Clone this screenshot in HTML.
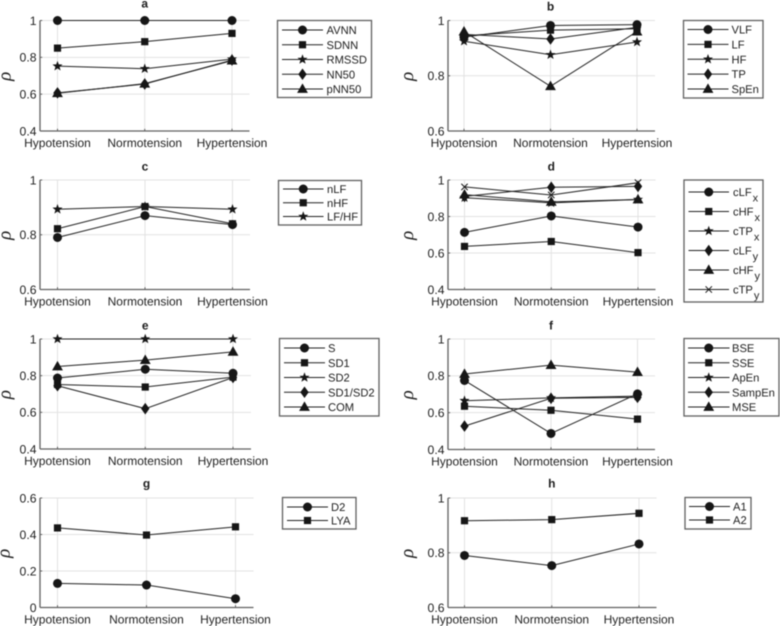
<!DOCTYPE html>
<html>
<head>
<meta charset="utf-8">
<title>Correlation by blood pressure group</title>
<style>
html,body{margin:0;padding:0;background:#fff;}
#figure{display:block;width:780px;height:626px;filter:blur(0.4px);}
text{font-family:"Liberation Sans",sans-serif;fill:#1f1f1f;text-rendering:geometricPrecision;}
</style>
</head>
<body>
<svg id="figure" xmlns="http://www.w3.org/2000/svg" width="780" height="626" viewBox="0 0 780 626"></svg>
<script>
// ---- Data ----
const categories = ["Hypotension", "Normotension", "Hypertension"];

const ticksFrom04 = [0.4, 0.6, 0.8, 1];
const ticksFrom06 = [0.6, 0.8, 1];
const ticksFrom0 = [0, 0.2, 0.4, 0.6];

const aAVNN = [1, 1, 1];
const aSDNN = [0.85, 0.885, 0.93];
const aRMSSD = [0.752, 0.738, 0.79];
const aNN50 = [0.607, 0.655, 0.785];
const apNN50 = [0.605, 0.657, 0.782];

const bVLF = [0.94, 0.982, 0.985];
const bLF = [0.945, 0.965, 0.97];
const bHF = [0.925, 0.876, 0.922];
const bTP = [0.95, 0.933, 0.975];
const bSpEn = [0.96, 0.762, 0.96];

const cnLF = [0.79, 0.87, 0.837];
const cnHF = [0.822, 0.903, 0.84];
const cLFHF = [0.893, 0.903, 0.893];

const dcLFx = [0.713, 0.803, 0.742];
const dcHFx = [0.636, 0.663, 0.602];
const dcTPx = [0.903, 0.875, 0.893];
const dcLFy = [0.91, 0.96, 0.965];
const dcHFy = [0.92, 0.88, 0.893];
const dcTPy = [0.962, 0.918, 0.985];

const eS = [0.787, 0.835, 0.813];
const eSD1 = [0.752, 0.738, 0.792];
const eSD2 = [1, 1, 1];
const eSD1SD2 = [0.745, 0.62, 0.79];
const eCOM = [0.85, 0.885, 0.93];

const fBSE = [0.775, 0.487, 0.702];
const fSSE = [0.635, 0.613, 0.565];
const fApEn = [0.665, 0.68, 0.69];
const fSampEn = [0.527, 0.678, 0.683];
const fMSE = [0.81, 0.858, 0.82];

const gD2 = [0.132, 0.123, 0.048];
const gLYA = [0.436, 0.397, 0.442];

const hA1 = [0.79, 0.753, 0.832];
const hA2 = [0.917, 0.921, 0.944];

// ---- Drawing ----
const svg = document.getElementById('figure');
const NS = 'http://www.w3.org/2000/svg';
const INK = '#161616';

function make(parent, tag, attrs, text) {
  const node = document.createElementNS(NS, tag);
  for (const k in attrs) node.setAttribute(k, attrs[k]);
  if (text !== undefined) node.textContent = text;
  parent.appendChild(node);
  return node;
}

function slug(s) {
  return s.toLowerCase().replace(/[^a-z0-9]+/g, '-');
}

function drawMarker(parent, shape, x, y) {
  let m;
  if (shape === 'circle') {
    m = make(parent, 'circle', {cx: x, cy: y, r: 4.5, fill: INK});
  } else if (shape === 'square') {
    m = make(parent, 'rect', {x: x - 3.6, y: y - 3.6, width: 7.2, height: 7.2, fill: INK});
  } else if (shape === 'star') {
    const pts = [];
    for (let i = 0; i < 10; i++) {
      const r = i % 2 === 0 ? 5.3 : 2.2;
      const a = -Math.PI / 2 + i * Math.PI / 5;
      pts.push((x + r * Math.cos(a)).toFixed(2) + ',' + (y + r * Math.sin(a)).toFixed(2));
    }
    m = make(parent, 'polygon', {points: pts.join(' '), fill: INK});
  } else if (shape === 'diamond') {
    m = make(parent, 'polygon', {points: `${x},${y - 5.8} ${x + 4.2},${y} ${x},${y + 5.8} ${x - 4.2},${y}`, fill: INK});
  } else if (shape === 'triangle') {
    m = make(parent, 'polygon', {points: `${x},${y - 5.6} ${x + 5.4},${y + 3.9} ${x - 5.4},${y + 3.9}`, fill: INK});
  } else {
    m = make(parent, 'path', {d: `M${x - 3.2} ${y - 3.2}L${x + 3.2} ${y + 3.2}M${x - 3.2} ${y + 3.2}L${x + 3.2} ${y - 3.2}`, stroke: INK, 'stroke-width': 1, fill: 'none'});
  }
  return m;
}

function drawPanel(p) {
  const yMin = p.ticks[0];
  const yMax = p.ticks[p.ticks.length - 1];
  const sy = v => p.bottom - (v - yMin) / (yMax - yMin) * (p.bottom - p.top);
  const sx = i => p.firstX + i * (p.lastX - p.firstX) / (categories.length - 1);

  const g = make(svg, 'g', {});
  
  

  // grid
  p.ticks.forEach(t => {
    if (t === yMin) return;
    const line = make(g, 'line', {x1: p.left, x2: p.right, y1: sy(t), y2: sy(t), stroke: '#e2e2e2', 'stroke-width': 1});
    
    
  });
  categories.forEach((c, i) => {
    const line = make(g, 'line', {x1: sx(i), x2: sx(i), y1: p.top, y2: p.bottom, stroke: '#e2e2e2', 'stroke-width': 1});
    
    
  });

  // axes
  const yAxis = make(g, 'line', {x1: p.left, x2: p.left, y1: p.top, y2: p.bottom, stroke: '#606060', 'stroke-width': 1.3});
  
  
  const xAxis = make(g, 'line', {x1: p.left, x2: p.right, y1: p.bottom, y2: p.bottom, stroke: '#606060', 'stroke-width': 1.3});
  
  

  // y ticks
  p.ticks.forEach(t => {
    const tick = make(g, 'line', {x1: p.left, x2: p.left + 2.2, y1: sy(t), y2: sy(t), stroke: '#606060', 'stroke-width': 1});
    
    
    const label = make(g, 'text', {x: p.left - 3.5, y: sy(t) + 4.4, 'text-anchor': 'end', 'font-size': 12.2}, String(t));
    
    
  });

  // x ticks and labels
  categories.forEach((c, i) => {
    const tick = make(g, 'line', {x1: sx(i), x2: sx(i), y1: p.bottom, y2: p.bottom - 2.2, stroke: '#606060', 'stroke-width': 1});
    
    
    const label = make(g, 'text', {x: sx(i), y: p.bottom + 16, 'text-anchor': 'middle', 'font-size': 12}, c);
    
    
  });

  // title
  const title = make(g, 'text', {x: sx(1), y: p.titleY, 'text-anchor': 'middle', 'font-size': 12, 'font-weight': 'bold'}, p.title);
  
  

  // y-axis title
  const cy = (p.top + p.bottom) / 2 + 0.5;
  const yTitle = make(g, 'text', {x: p.rhoX, y: cy, 'text-anchor': 'middle', 'font-size': 19, 'font-style': 'italic', transform: `rotate(-90 ${p.rhoX} ${cy})`, style: 'font-family:"Liberation Serif",serif'}, 'ρ');
  
  

  // series
  p.series.forEach(s => {
    const sg = make(g, 'g', {});
    
    
    const pts = s.values.map((v, i) => sx(i) + ',' + sy(v)).join(' ');
    const line = make(sg, 'polyline', {points: pts, fill: 'none', stroke: '#222', 'stroke-width': 1});
    
    
    s.values.forEach((v, i) => {
      const m = drawMarker(sg, s.marker, sx(i), sy(v));
      
      
    });
  });

  // legend
  const L = p.legend;
  const lg = make(svg, 'g', {});
  
  
  const box = make(lg, 'rect', {x: L.x, y: L.y, width: L.w, height: L.h, fill: '#fff', stroke: '#606060', 'stroke-width': 1.3});
  
  
  const n = p.series.length;
  const step = (L.lastY - L.firstY) / Math.max(1, n - 1);
  p.series.forEach((s, i) => {
    const y = L.firstY + i * step;
    const entry = make(lg, 'g', {});
    
    
    const sample = make(entry, 'line', {x1: L.lineX1, x2: L.lineX2, y1: y, y2: y, stroke: '#222', 'stroke-width': 1});
    
    
    const mk = drawMarker(entry, s.marker, (L.lineX1 + L.lineX2) / 2, y);
    
    
    const parts = s.label.split('_');
    const txt = make(entry, 'text', {x: L.textX, y: y + 4, 'font-size': 11.2}, parts[0]);
    
    
    if (parts[1]) {
      make(txt, 'tspan', {dx: 1, dy: 5.5, 'font-size': 11}, parts[1]);
    }
  });
}

drawPanel({
  title: 'a', ticks: ticksFrom04, left: 40, right: 249.5, top: 20.5, bottom: 131, firstX: 57.5, lastX: 232, titleY: 7.5, rhoX: 10.5,
  series: [
    {label: 'AVNN', marker: 'circle', values: aAVNN},
    {label: 'SDNN', marker: 'square', values: aSDNN},
    {label: 'RMSSD', marker: 'star', values: aRMSSD},
    {label: 'NN50', marker: 'diamond', values: aNN50},
    {label: 'pNN50', marker: 'triangle', values: apNN50}
  ],
  legend: {x: 277.5, y: 20.5, w: 94, h: 77, firstY: 30, lastY: 89, lineX1: 282, lineX2: 323, textX: 326.5}
});
drawPanel({
  title: 'b', ticks: ticksFrom06, left: 448, right: 655, top: 20.5, bottom: 131, firstX: 464, lastX: 637, titleY: 10.5, rhoX: 413,
  series: [
    {label: 'VLF', marker: 'circle', values: bVLF},
    {label: 'LF', marker: 'square', values: bLF},
    {label: 'HF', marker: 'star', values: bHF},
    {label: 'TP', marker: 'diamond', values: bTP},
    {label: 'SpEn', marker: 'triangle', values: bSpEn}
  ],
  legend: {x: 683.5, y: 20.5, w: 79.5, h: 77.5, firstY: 29.5, lastY: 89, lineX1: 687.5, lineX2: 728.5, textX: 731.5}
});
drawPanel({
  title: 'c', ticks: ticksFrom06, left: 40, right: 250, top: 180, bottom: 289.5, firstX: 57.5, lastX: 232.5, titleY: 170.5, rhoX: 10.5,
  series: [
    {label: 'nLF', marker: 'circle', values: cnLF},
    {label: 'nHF', marker: 'square', values: cnHF},
    {label: 'LF/HF', marker: 'star', values: cLFHF}
  ],
  legend: {x: 278.5, y: 180.5, w: 83, h: 44.5, firstY: 189, lastY: 216.5, lineX1: 283, lineX2: 323.5, textX: 327}
});
drawPanel({
  title: 'd', ticks: ticksFrom04, left: 448, right: 655.5, top: 180, bottom: 289.5, firstX: 464.5, lastX: 638, titleY: 170.5, rhoX: 413,
  series: [
    {label: 'cLF_x', marker: 'circle', values: dcLFx},
    {label: 'cHF_x', marker: 'square', values: dcHFx},
    {label: 'cTP_x', marker: 'star', values: dcTPx},
    {label: 'cLF_y', marker: 'diamond', values: dcLFy},
    {label: 'cHF_y', marker: 'triangle', values: dcHFy},
    {label: 'cTP_y', marker: 'cross', values: dcTPy}
  ],
  legend: {x: 684, y: 180, w: 79, h: 122, firstY: 192, lastY: 289.5, lineX1: 688.5, lineX2: 729, textX: 733}
});
drawPanel({
  title: 'e', ticks: ticksFrom04, left: 40, right: 251, top: 339, bottom: 449, firstX: 57.5, lastX: 233, titleY: 329.5, rhoX: 10.5,
  series: [
    {label: 'S', marker: 'circle', values: eS},
    {label: 'SD1', marker: 'square', values: eSD1},
    {label: 'SD2', marker: 'star', values: eSD2},
    {label: 'SD1/SD2', marker: 'diamond', values: eSD1SD2},
    {label: 'COM', marker: 'triangle', values: eCOM}
  ],
  legend: {x: 279.5, y: 338.5, w: 99.5, h: 77.5, firstY: 348, lastY: 407, lineX1: 284, lineX2: 325, textX: 328}
});
drawPanel({
  title: 'f', ticks: ticksFrom04, left: 448, right: 655, top: 339, bottom: 449.5, firstX: 464.5, lastX: 637.5, titleY: 329.5, rhoX: 413,
  series: [
    {label: 'BSE', marker: 'circle', values: fBSE},
    {label: 'SSE', marker: 'square', values: fSSE},
    {label: 'ApEn', marker: 'star', values: fApEn},
    {label: 'SampEn', marker: 'diamond', values: fSampEn},
    {label: 'MSE', marker: 'triangle', values: fMSE}
  ],
  legend: {x: 684, y: 338.5, w: 95, h: 77.5, firstY: 348, lastY: 407, lineX1: 688, lineX2: 729.5, textX: 732}
});
drawPanel({
  title: 'g', ticks: ticksFrom0, left: 40, right: 253.5, top: 498, bottom: 607.5, firstX: 57.5, lastX: 235.5, titleY: 487.5, rhoX: 9.5,
  series: [
    {label: 'D2', marker: 'circle', values: gD2},
    {label: 'LYA', marker: 'square', values: gLYA}
  ],
  legend: {x: 282.5, y: 497.5, w: 73.5, h: 31.5, firstY: 507, lastY: 520.5, lineX1: 287, lineX2: 328, textX: 331}
});
drawPanel({
  title: 'h', ticks: ticksFrom06, left: 448, right: 656.5, top: 498, bottom: 607.5, firstX: 464.5, lastX: 639, titleY: 487.5, rhoX: 413,
  series: [
    {label: 'A1', marker: 'circle', values: hA1},
    {label: 'A2', marker: 'square', values: hA2}
  ],
  legend: {x: 685, y: 497.5, w: 66, h: 31.5, firstY: 506.5, lastY: 520, lineX1: 689, lineX2: 730, textX: 733}
});
</script>
</body>
</html>
